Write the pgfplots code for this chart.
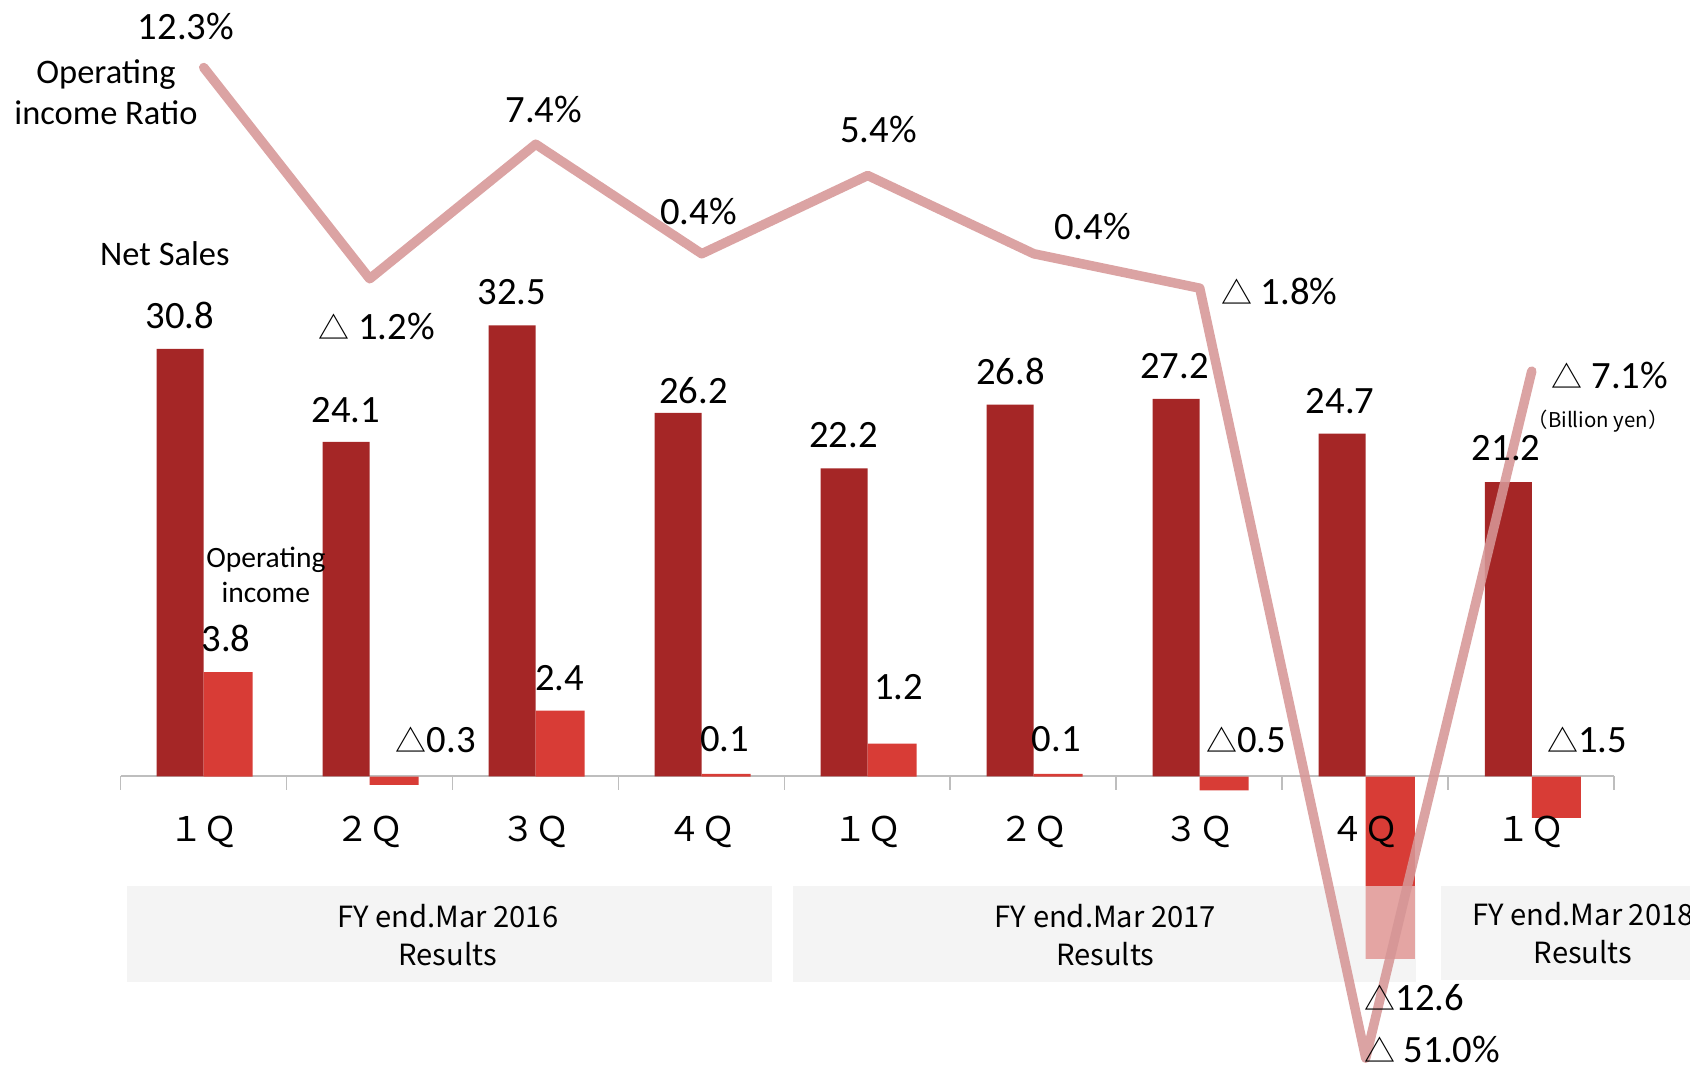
\documentclass[border=0pt]{standalone}
\usepackage{pgfplots}
\pgfplotsset{compat=1.18}
\usepackage{fontspec}
\setmainfont{Carlito}
\newfontfamily\jp{Noto Sans CJK JP}
\definecolor{nsC}{RGB}{165,38,38}
\definecolor{oiC}{RGB}{216,60,54}
\definecolor{ratio}{RGB}{214,150,150}
\definecolor{boxfill}{RGB}{236,236,236}
\definecolor{axgray}{RGB}{190,190,190}
\newcommand{\tri}{{\jp\fontsize{8.8}{10}\selectfont △}}
\pgfplotsset{base/.style={scale only axis, width=16.9cm, anchor=south west,
  xmin=-1.22711, xmax=8.95361, hide axis},
  ns/.style={ybar, bar width=0.47cm, bar shift=-0.235cm, draw=none, fill=nsC},
  oi/.style={ybar, bar width=0.49cm, bar shift=0.245cm, draw=none, fill=oiC}}
\begin{document}
\begin{tikzpicture}
\useasboundingbox (0,0) rectangle (16.9cm,10.7cm);
% baseline and ticks
\begin{scope}[x=0.01cm, y=-0.01cm, yshift=10.7cm]
\draw[axgray, line width=0.015cm] (120.7,776.5) -- (1614.7,776.5);
\foreach \k in {0,...,9} {\draw[axgray, line width=0.015cm] ({120.7+166*\k},776.5) -- ({120.7+166*\k},790);}
\end{scope}
% net sales bars
\begin{axis}[base, at={(0,0)}, height=10.7cm, ymin=-21.146, ymax=55.944, clip=false]
\addplot[ns] coordinates {(0,30.8) (1,24.1) (2,32.5) (3,26.2) (4,22.2) (5,26.8) (6,27.2) (7,24.7) (8,21.2)};
\end{axis}
% operating income bars
\begin{axis}[base, at={(0,1.12cm)}, height=9.58cm, ymin=-6.6, ymax=28.236]
\addplot[oi] coordinates {(0,3.8) (1,-0.3) (2,2.4) (3,0.1) (4,1.2) (5,0.1) (6,-0.5) (7,-12.6) (8,-1.5)};
\end{axis}
% FY boxes
\begin{scope}[x=0.01cm, y=-0.01cm, yshift=10.7cm]
\fill[boxfill, fill opacity=0.6] (127,886) rectangle (772,983);
\fill[boxfill, fill opacity=0.6] (793,886) rectangle (1417,983);
\fill[boxfill, fill opacity=0.6] (1442,886) rectangle (1700,981);
\end{scope}
% operating income ratio line
\begin{axis}[base, at={(0,0)}, height=10.7cm, ymin=-51.757, ymax=16.613, clip=false]
\addplot[ratio, opacity=0.88, line width=0.095cm, line cap=round, line join=round]
  coordinates {(0,12.3) (1,-1.2) (2,7.4) (3,0.4) (4,5.4) (5,0.4) (6,-1.8) (7,-51.0) (8,-7.1)};
\end{axis}
% texts
\begin{scope}[x=0.01cm, y=-0.01cm, yshift=10.7cm]
\tikzset{v/.style={font=\fontsize{11}{13}\selectfont, inner sep=0pt}}
% ratio labels
\node[v] at (186,26) {12.3\%};
\node[v] at (544,110) {7.4\%};
\node[v] at (699,212) {0.4\%};
\node[v] at (879,130) {5.4\%};
\node[v] at (1093,227) {0.4\%};
\node[v] at (377,327) {\tri\ 1.2\%};
\node[v] at (1280,292) {\tri\ 1.8\%};
\node[v] at (1611,376) {\tri\ 7.1\%};
\node[v] at (1433,1050) {\tri\ 51.0\%};
\node[font=\fontsize{9.8}{11.7}\selectfont, align=center, inner sep=0pt] at (106,92) {Operating\\income Ratio};
\node[font=\fontsize{9.8}{11.7}\selectfont, inner sep=0pt] at (165,254) {Net Sales};
\node[font=\jp\fontsize{5.8}{7}\selectfont, inner sep=0pt] at (1599,421) {（Billion yen）};
% net sales labels
\node[v] at (180,316) {30.8};
\node[v] at (346,410) {24.1};
\node[v] at (512,292) {32.5};
\node[v] at (694,391) {26.2};
\node[v] at (844,435) {22.2};
\node[v] at (1011,372) {26.8};
\node[v] at (1175,366) {27.2};
\node[v] at (1341,401) {24.7};
\node[v] at (1507,448) {21.2};
% operating income labels
\node[font=\fontsize{8.4}{9.9}\selectfont, align=center, inner sep=0pt] at (266,575) {Operating\\income};
\node[v] at (226,639) {3.8};
\node[v] at (436,740) {\tri 0.3};
\node[v] at (560,678) {2.4};
\node[v] at (725,740) {0.1};
\node[v] at (899,687) {1.2};
\node[v] at (1057,740) {0.1};
\node[v] at (1247,740) {\tri 0.5};
\node[v] at (1415,998) {\tri 12.6};
\node[v] at (1588,740) {\tri 1.5};
% categories
\foreach \i/\t in {0/１Ｑ,1/２Ｑ,2/３Ｑ,3/４Ｑ,4/１Ｑ,5/２Ｑ,6/３Ｑ,7/４Ｑ,8/１Ｑ}
  {\node[font=\jp\fontsize{9.7}{11}\selectfont, inner sep=0pt] at ({203.7+166*\i},832) {\t};}
% FY texts
\tikzset{fy/.style={font=\jp\fontsize{8.3}{11}\selectfont, align=center, inner sep=0pt}}
\node[fy] at (448,935.5) {FY end.Mar 2016\\Results};
\node[fy] at (1106,935.5) {FY end.Mar 2017\\Results};
\node[fy] at (1584,933.5) {FY end.Mar 2018\\Results};
\end{scope}
\end{tikzpicture}
\end{document}
